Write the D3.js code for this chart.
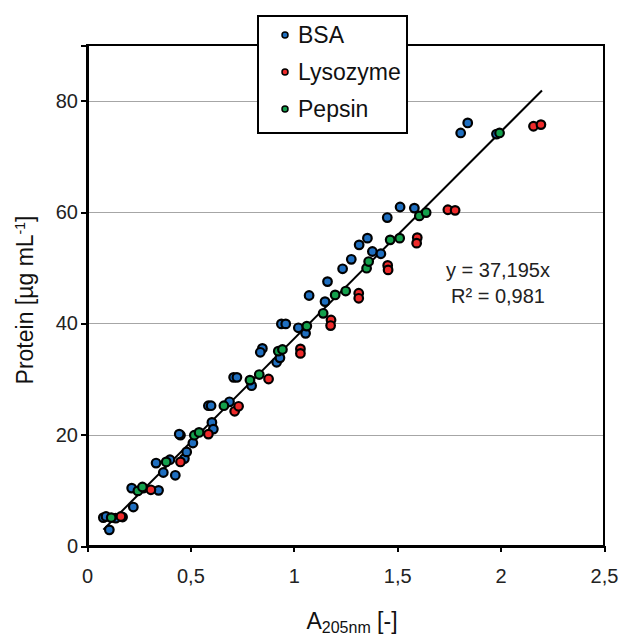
<!DOCTYPE html>
<html lang="en">
  <head>
    <meta charset="UTF-8" />
    <style>
      body {
        margin: 0;
        background: #fff;
      }
      svg {
        font-family: "Liberation Sans", Arial, sans-serif;
      }
      .grid line {
        stroke: #a6a6a6;
        stroke-width: 1;
        shape-rendering: crispEdges;
      }
      .axis path,
      .axis line {
        stroke: #000;
        stroke-width: 2;
        shape-rendering: crispEdges;
      }
      .axis text {
        font-size: 20px;
        fill: #222;
      }
    </style>
    <script src="https://d3js.org/d3.v7.min.js"></script>
    <title>Protein calibration</title>
  </head>
  <body>
    <script>
      // series: [A205nm, protein ug/mL]
      var bsa = [
        [0.079, 5.1], [0.092, 5.3], [0.139, 5.0], [0.172, 5.2], [0.108, 2.9],
        [0.224, 7.0], [0.216, 10.4], [0.272, 10.4], [0.346, 10.0], [0.334, 14.9],
        [0.401, 15.5], [0.369, 13.2], [0.427, 12.7], [0.471, 15.7], [0.482, 16.9],
        [0.512, 18.5], [0.452, 19.9], [0.446, 20.1], [0.604, 22.2], [0.611, 21.0],
        [0.587, 25.2], [0.6, 25.2], [0.689, 25.9], [0.709, 30.3], [0.725, 30.3],
        [0.796, 28.8], [0.848, 35.5], [0.838, 34.8], [0.917, 33.0], [0.933, 33.8],
        [0.94, 39.9], [0.961, 39.9], [1.022, 39.2], [1.057, 38.2], [1.074, 45.0],
        [1.151, 43.9], [1.163, 47.5], [1.236, 49.8], [1.278, 51.5], [1.316, 54.1],
        [1.356, 55.3], [1.38, 52.9], [1.421, 52.5], [1.452, 59.0], [1.514, 60.9],
        [1.583, 60.7], [1.807, 74.2], [1.841, 76.0], [1.98, 74.0]
      ];
      var lysozyme = [
        [0.164, 5.3], [0.309, 10.1], [0.452, 15.1], [0.587, 20.1], [0.714, 24.2],
        [0.733, 25.1], [0.878, 30.0], [1.032, 35.4], [1.032, 34.6], [1.18, 40.6],
        [1.178, 39.6], [1.314, 45.4], [1.314, 44.5], [1.454, 50.4], [1.456, 49.6],
        [1.597, 55.4], [1.594, 54.4], [1.745, 60.4], [1.78, 60.3], [2.159, 75.4],
        [2.195, 75.7]
      ];
      var pepsin = [
        [0.117, 5.1], [0.246, 9.9], [0.268, 10.6], [0.383, 15.1], [0.519, 19.9],
        [0.542, 20.4], [0.662, 25.2], [0.788, 29.8], [0.833, 30.8], [0.925, 35.0],
        [0.945, 35.3], [1.063, 39.5], [1.142, 41.8], [1.2, 45.1], [1.251, 45.8],
        [1.352, 49.9], [1.362, 51.1], [1.466, 55.0], [1.512, 55.3], [1.607, 59.3],
        [1.64, 59.9], [1.995, 74.2]
      ];
      var seriesNames = ["BSA", "Lysozyme", "Pepsin"];
      var seriesColors = ["#1f6fc0", "#ee2a2a", "#14a04c"];
      var slope = 37.195;
      var trendRange = [0.079, 2.2];
      var equationLines = ["y = 37,195x", "R² = 0,981"];
      var xTicks = [0, 0.5, 1, 1.5, 2, 2.5];
      var yTicks = [0, 20, 40, 60, 80];

      var margin = { top: 45, right: 17, bottom: 93, left: 87 },
        width = 621 - margin.left - margin.right,
        height = 639 - margin.top - margin.bottom;

      var svg = d3
        .select("body")
        .append("svg")
        .attr("width", 621)
        .attr("height", 639);
      var g = svg
        .append("g")
        .attr("transform", "translate(" + margin.left + "," + margin.top + ")");

      var x = d3.scaleLinear().domain([0, 2.5]).range([0, width]);
      var y = d3.scaleLinear().domain([0, 90]).range([height, 0]);
      var fmt = function (d) {
        return String(d).replace(".", ",");
      };

      // horizontal gridlines
      g.append("g")
        .attr("class", "grid")
        .selectAll("line")
        .data(yTicks.filter(function (d) { return d > 0; }))
        .enter()
        .append("line")
        .attr("x1", 0)
        .attr("x2", width)
        .attr("y1", function (d) { return Math.round(y(d)) + 0.5; })
        .attr("y2", function (d) { return Math.round(y(d)) + 0.5; });

      // plot frame
      g.append("rect")
        .attr("width", width)
        .attr("height", height)
        .attr("fill", "none")
        .attr("stroke", "#000")
        .attr("stroke-width", 2);

      g.append("g")
        .attr("class", "axis")
        .attr("transform", "translate(0," + height + ")")
        .call(d3.axisBottom(x).tickValues(xTicks).tickFormat(fmt).tickSizeOuter(0).tickSize(6).tickPadding(17));
      g.append("g")
        .attr("class", "axis")
        .call(d3.axisLeft(y).tickValues(yTicks).tickFormat(fmt).tickSizeOuter(0).tickSize(6).tickPadding(3));

      // trendline
      g.append("line")
        .attr("x1", x(trendRange[0]))
        .attr("y1", y(slope * trendRange[0]))
        .attr("x2", x(trendRange[1]))
        .attr("y2", y(slope * trendRange[1]))
        .attr("stroke", "#000")
        .attr("stroke-width", 2);

      // points
      [bsa, lysozyme, pepsin].forEach(function (data, i) {
        g.append("g")
          .selectAll("circle")
          .data(data)
          .enter()
          .append("circle")
          .attr("cx", function (d) { return x(d[0]); })
          .attr("cy", function (d) { return y(d[1]); })
          .attr("r", 4.3)
          .attr("fill", seriesColors[i])
          .attr("stroke", "#000")
          .attr("stroke-width", 2.2);
      });

      // equation
      svg.append("g")
        .selectAll("text")
        .data(equationLines)
        .enter()
        .append("text")
        .attr("x", 498)
        .attr("y", function (d, i) { return 277 + i * 26; })
        .attr("text-anchor", "middle")
        .style("font-size", "20px")
        .style("fill", "#222")
        .text(function (d) { return d; });

      // legend
      var legend = svg.append("g").attr("transform", "translate(258,16)");
      legend.append("rect")
        .attr("width", 149)
        .attr("height", 117)
        .attr("fill", "#fff")
        .attr("stroke", "#000")
        .attr("stroke-width", 2);
      var items = legend.selectAll(".item")
        .data(seriesNames)
        .enter()
        .append("g")
        .attr("transform", function (d, i) { return "translate(0," + (19 + i * 37) + ")"; });
      items.append("circle")
        .attr("cx", 27)
        .attr("r", 3)
        .attr("fill", function (d, i) { return seriesColors[i]; })
        .attr("stroke", "#000")
        .attr("stroke-width", 1.5);
      items.append("text")
        .attr("x", 40)
        .attr("dy", "0.36em")
        .style("font-size", "23px")
        .style("fill", "#111")
        .text(function (d) { return d; });

      // axis titles
      var xt = svg.append("text")
        .attr("x", 352)
        .attr("y", 629)
        .attr("text-anchor", "middle")
        .style("font-size", "23px")
        .style("fill", "#111");
      xt.append("tspan").text("A");
      xt.append("tspan").attr("dy", 4).style("font-size", "16px").text("205nm");
      xt.append("tspan").attr("dy", -4).text(" [-]");

      var yt = svg.append("text")
        .attr("transform", "translate(33,300) rotate(-90)")
        .attr("text-anchor", "middle")
        .style("font-size", "23px")
        .style("fill", "#111");
      yt.append("tspan").text("Protein [µg mL");
      yt.append("tspan").attr("dy", -8).style("font-size", "14px").text("-1");
      yt.append("tspan").attr("dy", 8).text("]");
    </script>
  </body>
</html>
